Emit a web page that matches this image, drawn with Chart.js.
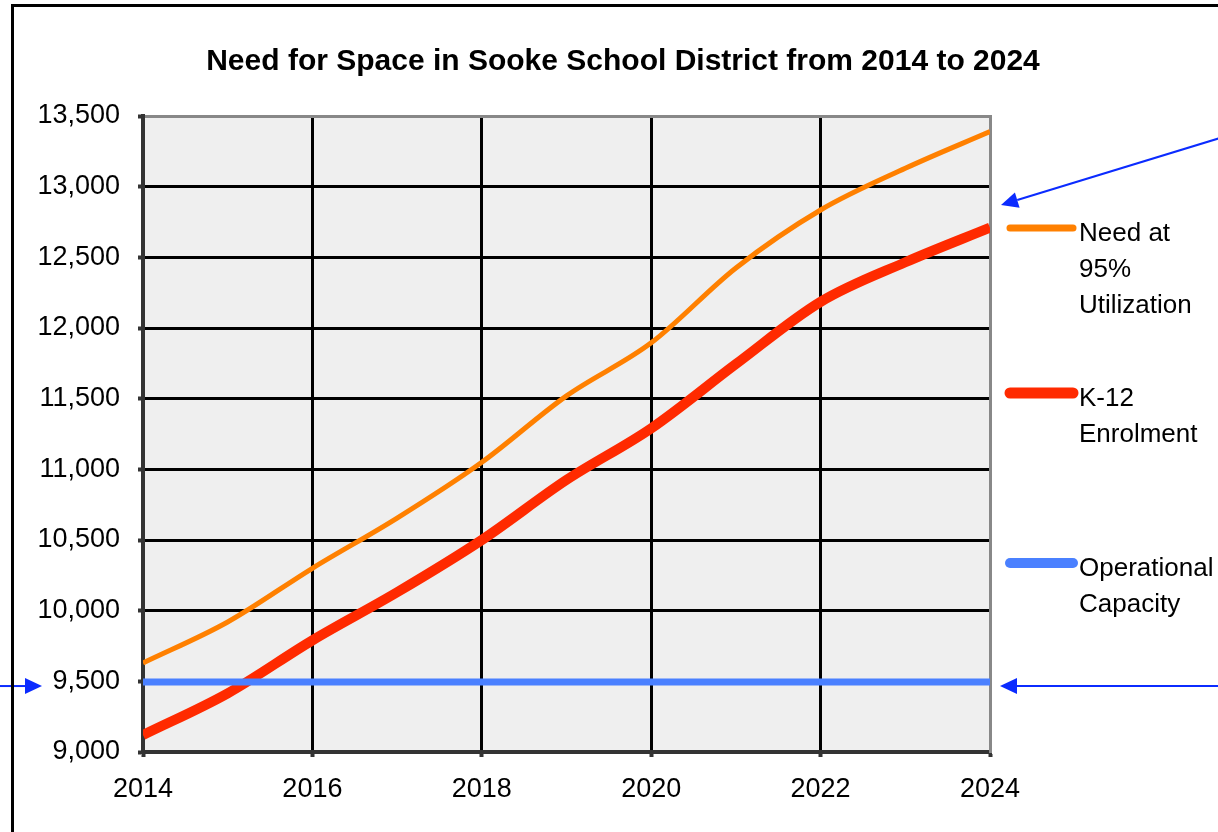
<!DOCTYPE html>
<html>
<head>
<meta charset="utf-8">
<script src="https://cdn.jsdelivr.net/npm/chart.js"></script>
<style>
  html, body { margin: 0; padding: 0; background: #fff; overflow: hidden; }
  #wrap { position: relative; width: 1218px; height: 832px; }
  #frame { position: absolute; left: 11px; top: 4px; width: 1400px; height: 1000px; border: 3px solid #000; box-sizing: border-box; pointer-events: none; }
  canvas { position: absolute; left: 0; top: 0; }
</style>
</head>
<body>
<div id="wrap">
  <canvas id="grafico" width="1218" height="832"></canvas>
  <div id="frame"></div>
</div>
<script>
const anos = [2014, 2015, 2016, 2017, 2018, 2019, 2020, 2021, 2022, 2023, 2024];
const necessidade = [9630, 9920, 10300, 10655, 11050, 11520, 11895, 12425, 12835, 13130, 13390];
const matricula = [9120, 9415, 9790, 10130, 10500, 10925, 11290, 11745, 12185, 12465, 12710];
const capacidade = [9495, 9495, 9495, 9495, 9495, 9495, 9495, 9495, 9495, 9495, 9495];
const titulo = 'Need for Space in Sooke School District from 2014 to 2024';
const legendaNecessidade = ['Need at', '95%', 'Utilization'];
const legendaMatricula = ['K-12', 'Enrolment'];
const legendaCapacidade = ['Operational', 'Capacity'];

const fonte = '"Liberation Sans", Arial, sans-serif';

function pontos(valores) {
    return anos.map((a, i) => ({ x: a, y: valores[i] }));
}

// fundo cinza da area do grafico
const fundoPlugin = {
    id: 'fundo',
    beforeDraw(chart) {
        const { ctx, chartArea: a } = chart;
        ctx.save();
        ctx.fillStyle = '#efefef';
        ctx.fillRect(a.left, a.top, a.right - a.left, a.bottom - a.top);
        ctx.restore();
    }
};

function seta(ctx, x1, y1, x2, y2) {
    const ang = Math.atan2(y2 - y1, x2 - x1);
    const len = 17, larg = 8;
    const bx = x2 - len * Math.cos(ang), by = y2 - len * Math.sin(ang);
    ctx.beginPath();
    ctx.moveTo(x1, y1);
    ctx.lineTo(bx, by);
    ctx.stroke();
    ctx.beginPath();
    ctx.moveTo(x2, y2);
    ctx.lineTo(bx + larg * Math.sin(ang), by - larg * Math.cos(ang));
    ctx.lineTo(bx - larg * Math.sin(ang), by + larg * Math.cos(ang));
    ctx.closePath();
    ctx.fill();
}

const extrasPlugin = {
    id: 'extras',
    afterDraw(chart) {
        const { ctx, chartArea: a } = chart;
        const yCap = chart.scales.y.getPixelForValue(capacidade[0]) + 4;
        ctx.save();
        // legenda
        const itens = [
            { linhas: legendaNecessidade, cor: '#ff8000', esp: 7, y: a.top + 112 },
            { linhas: legendaMatricula, cor: '#ff2a00', esp: 11, y: a.top + 277 },
            { linhas: legendaCapacidade, cor: '#4a80ff', esp: 10, y: a.top + 447 }
        ];
        ctx.lineCap = 'round';
        ctx.font = '26px ' + fonte;
        ctx.textBaseline = 'middle';
        ctx.fillStyle = '#000';
        itens.forEach(it => {
            ctx.strokeStyle = it.cor;
            ctx.lineWidth = it.esp;
            ctx.beginPath();
            ctx.moveTo(a.right + 20, it.y);
            ctx.lineTo(a.right + 83, it.y);
            ctx.stroke();
            it.linhas.forEach((t, i) => ctx.fillText(t, a.right + 89, it.y + 6 + i * 36));
        });
        // setas
        ctx.strokeStyle = '#0b2bff';
        ctx.fillStyle = '#0b2bff';
        ctx.lineWidth = 2;
        ctx.lineCap = 'butt';
        seta(ctx, 1220, 138, a.right + 11, 205);
        seta(ctx, 1220, yCap, a.right + 10, yCap);
        seta(ctx, -2, yCap, 42, yCap);
        ctx.restore();
    }
};

new Chart(document.getElementById('grafico'), {
    type: 'line',
    data: {
        datasets: [
            { label: legendaNecessidade.join(' '), data: pontos(necessidade), borderColor: '#ff8000', borderWidth: 5, order: 2 },
            { label: legendaMatricula.join(' '), data: pontos(matricula), borderColor: '#ff2a00', borderWidth: 10, order: 1 },
            { label: legendaCapacidade.join(' '), data: pontos(capacidade), borderColor: '#4a80ff', borderWidth: 7, order: 0 }
        ]
    },
    options: {
        responsive: false,
        animation: false,
        devicePixelRatio: 1,
        layout: { padding: { left: 28, right: 0, top: 0, bottom: 0 } },
        elements: {
            point: { radius: 0 },
            line: { cubicInterpolationMode: 'monotone', fill: false }
        },
        plugins: {
            legend: { display: false },
            tooltip: { enabled: false },
            title: {
                display: true,
                text: titulo,
                color: '#000',
                font: { family: fonte, size: 30, weight: 'bold' },
                padding: { top: 44, bottom: 36 }
            }
        },
        scales: {
            x: {
                type: 'linear',
                min: 2014,
                max: 2024,
                afterFit: s => { s.height = 80; },
                ticks: {
                    stepSize: 2,
                    color: '#000',
                    padding: 16,
                    font: { family: fonte, size: 27 },
                    callback: v => String(v)
                },
                grid: {
                    color: c => c.tick && c.tick.value === 2024 ? '#888' : '#000',
                    lineWidth: 3,
                    tickColor: '#333',
                    tickLength: 5,
                    tickWidth: 4
                },
                border: { color: '#333', width: 4 }
            },
            y: {
                min: 9000,
                max: 13500,
                afterFit: s => { s.width = 115; },
                ticks: {
                    stepSize: 500,
                    color: '#000',
                    padding: 18,
                    font: { family: fonte, size: 27 },
                    callback: v => v.toLocaleString('en-US')
                },
                grid: {
                    color: c => c.tick && c.tick.value === 13500 ? '#888' : '#000',
                    lineWidth: 3,
                    tickColor: '#333',
                    tickLength: 5,
                    tickWidth: 4
                },
                border: { color: '#333', width: 4 }
            },
            y2: {
                position: 'right',
                display: true,
                afterFit: s => { s.width = 228; },
                ticks: { display: false },
                grid: { display: false },
                border: { color: '#888', width: 3 }
            }
        }
    },
    plugins: [fundoPlugin, extrasPlugin]
});
</script>
</body>
</html>
